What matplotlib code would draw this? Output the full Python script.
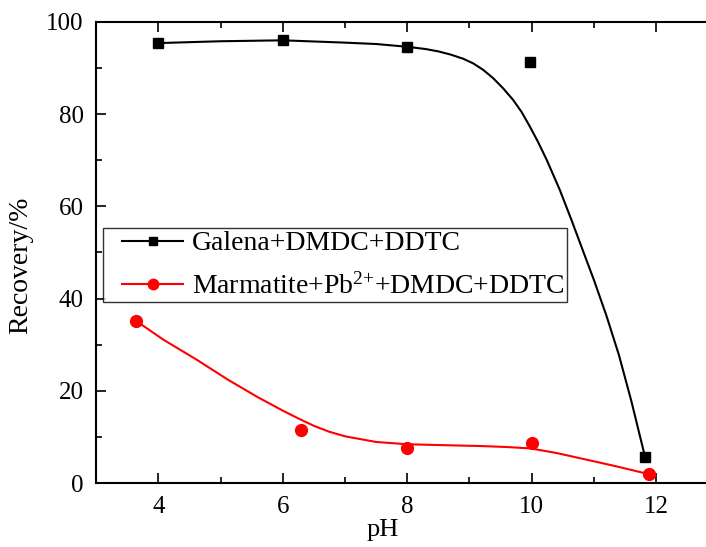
import numpy as np
import matplotlib
matplotlib.use("Agg")
import matplotlib.pyplot as plt
from matplotlib.ticker import MultipleLocator
from matplotlib.legend_handler import HandlerLine2D

plt.rcParams['font.family'] = ['Liberation Serif', 'DejaVu Serif']
plt.rcParams['mathtext.fontset'] = 'custom'
plt.rcParams['mathtext.rm'] = 'Liberation Serif'
plt.rcParams['mathtext.it'] = 'Liberation Serif:italic'

# Measured points
galena_ph = [4.0, 6.0, 8.0, 9.98, 11.82]
galena_rec = [95.4, 96.1, 94.6, 91.4, 5.7]
marm_ph = [3.65, 6.30, 8.0, 10.0, 11.89]
marm_rec = [35.1, 11.6, 7.6, 8.7, 1.9]

# Smoothed fit curves
galena_fit_ph = [4.0, 5.0, 6.0, 7.0, 7.5, 8.0, 8.3, 8.5, 8.7, 8.9, 9.06, 9.22, 9.38,
                 9.54, 9.70, 9.84, 9.97, 10.1, 10.24, 10.45, 10.64, 10.8, 11.0,
                 11.2, 11.4, 11.6, 11.82]
galena_fit_rec = [95.4, 95.8, 96.0, 95.5, 95.2, 94.6, 94.1, 93.6, 92.9, 92.0, 91.0, 89.6, 87.8,
                  85.6, 83.1, 80.4, 77.3, 74.0, 70.1, 63.6, 57.0, 51.2, 44.0,
                  36.3, 27.8, 17.8, 5.7]
marm_fit_ph = [3.65, 4.08, 4.61, 5.12, 5.6, 6.0, 6.25, 6.5, 6.75, 7.01, 7.5, 8.0, 8.6,
               9.22, 9.6, 9.98, 10.4, 10.8, 11.3, 11.89]
marm_fit_rec = [35.1, 31.1, 26.8, 22.4, 18.6, 15.7, 14.0, 12.4, 11.1, 10.1, 8.9, 8.4, 8.2,
                8.0, 7.8, 7.5, 6.5, 5.3, 3.8, 1.9]

fig = plt.figure(figsize=(7.06, 5.47), dpi=100)
ax = fig.add_axes([0.136, 0.117, 0.864, 0.843])

# fit lines
ax.plot(galena_fit_ph, galena_fit_rec, color='black', lw=1.5)
ax.plot(marm_fit_ph, marm_fit_rec, color='red', lw=1.5)
# markers
ax.plot(galena_ph, galena_rec, 's', color='black', ms=7)
ax.plot(marm_ph, marm_rec, 'o', color='red', ms=8.5)

# legend proxies (line + marker)
h1, = ax.plot([], [], '-s', color='black', lw=1.5, ms=6, label='Galena+DMDC+DDTC')
h2, = ax.plot([], [], '-o', color='red', lw=1.5, ms=7.5,
              label='Marmatite+Pb$^{2{+}}$+DMDC+DDTC')
hmap = {h1: HandlerLine2D(xpad=0.6), h2: HandlerLine2D(xpad=0.6)}
leg = ax.legend(handles=[h1, h2], handler_map=hmap, loc='upper left',
                bbox_to_anchor=(0.0115, 0.553),
                fontsize=20, frameon=True, fancybox=False, edgecolor='black',
                handlelength=2.77, handletextpad=0.32, borderpad=0.1,
                labelspacing=0.6, borderaxespad=0)
leg.get_frame().set_linewidth(1.0)

ax.set_xlim(3, 12.8)
ax.set_ylim(0, 100)
ax.xaxis.set_major_locator(MultipleLocator(2))
ax.xaxis.set_minor_locator(MultipleLocator(1))
ax.yaxis.set_major_locator(MultipleLocator(20))
ax.yaxis.set_minor_locator(MultipleLocator(10))
ax.tick_params(which='both', direction='in', top=True, right=False, labelsize=18, pad=9)
ax.tick_params(which='major', length=7, width=1.2)
ax.tick_params(which='minor', length=4, width=1.2)
ax.spines['right'].set_visible(False)
for s in ['left', 'bottom', 'top']:
    ax.spines[s].set_linewidth(1.5)

ax.set_xlabel('pH', fontsize=19)
ax.set_ylabel('Recovery/%', fontsize=20)
ax.xaxis.set_label_coords(0.47, -0.078)
ax.yaxis.set_label_coords(-0.103, 0.473)

fig.savefig('out.png', dpi=100)
